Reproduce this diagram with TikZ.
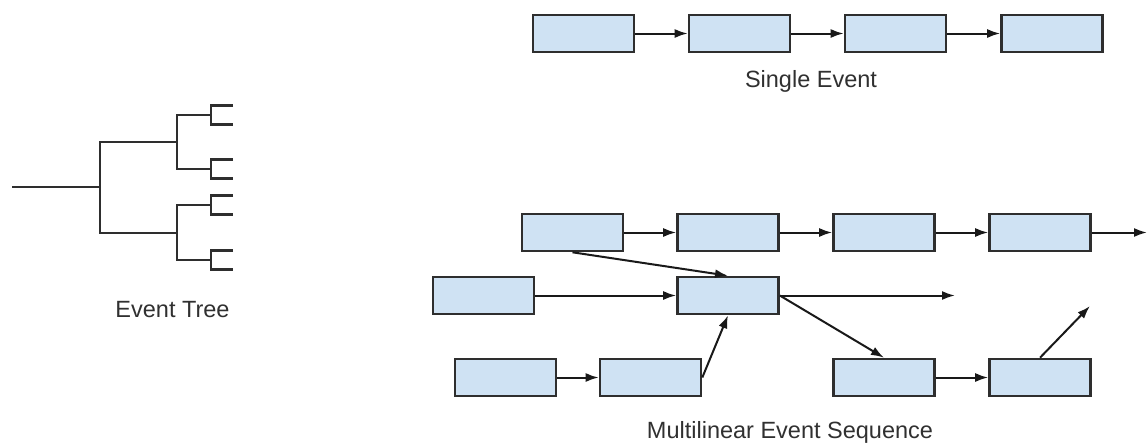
\documentclass[tikz,border=0pt]{standalone}
\usepackage{fontspec}
\setmainfont{Liberation Sans}
\usetikzlibrary{arrows.meta}
\definecolor{boxfill}{HTML}{CFE2F3}
\definecolor{boxline}{HTML}{2E2E2E}
\definecolor{txt}{HTML}{303030}
\begin{document}
\begin{tikzpicture}[x=1pt,y=-1pt,
  evbox/.style={draw=boxline,fill=boxfill,line width=2.6pt,rectangle,minimum width=101pt,minimum height=37pt,inner sep=0pt},
  conn/.style={draw=black!90,line width=2pt,-{Latex[length=13pt,width=9pt]}},
  lbl/.style={text=txt,font=\fontsize{23.5}{28}\selectfont,anchor=base,inner sep=0pt},
  treeline/.style={draw=boxline,line width=2.4pt}]
\useasboundingbox (0,0) rectangle (1147,442);
% Single event row
\node[evbox] (t1) at (583.5,33.5) {};
\node[evbox] (t2) at (739.5,33.5) {};
\node[evbox] (t3) at (895.5,33.5) {};
\node[evbox] (t4) at (1052,33.5) {};
\draw[conn] (t1.east) -- (t2.west);
\draw[conn] (t2.east) -- (t3.west);
\draw[conn] (t3.east) -- (t4.west);
\node[lbl] (lsingle) at (811,87) {Single Event};
% Multilinear
\node[evbox] (a) at (572.5,232.5) {};
\node[evbox] (b) at (728,232.5) {};
\node[evbox] (c) at (884,232.5) {};
\node[evbox] (d) at (1040,232.5) {};
\node[evbox] (e) at (483.5,295.5) {};
\node[evbox] (f) at (728,295.5) {};
\node[evbox] (h) at (505.5,377.5) {};
\node[evbox] (i) at (650.5,377.5) {};
\node[evbox] (g) at (884,377.5) {};
\node[evbox] (j) at (1040,377.5) {};
\coordinate (dend) at (1147,232.5);
\coordinate (fend) at (955,295.5);
\coordinate (jend) at (1090,306);
\draw[conn] (a.east) -- (b.west);
\draw[conn] (b.east) -- (c.west);
\draw[conn] (c.east) -- (d.west);
\draw[conn] (d.east) -- (dend);
\draw[conn] (a.south) -- (f.north);
\draw[conn] (e.east) -- (f.west);
\draw[conn] (f.east) -- (fend);
\draw[conn] (f.east) -- (g.north);
\draw[conn] (h.east) -- (i.west);
\draw[conn] (i.east) -- (f.south);
\draw[conn] (g.east) -- (j.west);
\draw[conn] (j.north) -- (jend);
\node[lbl] (lmulti) at (790,438) {Multilinear Event Sequence};
% Event tree
\draw[treeline] (12,187) -- (100,187);
\draw[treeline] (177,142) -- (100,142) -- (100,233) -- (177,233);
\draw[treeline] (211,115) -- (177,115) -- (177,169) -- (211,169);
\draw[treeline] (211,205) -- (177,205) -- (177,260) -- (211,260);
\foreach \yy in {115,169,205,260}{
  \draw[treeline] (233,\yy-9.5) -- (211,\yy-9.5) -- (211,\yy+9.5) -- (233,\yy+9.5);
}
\node[lbl] (ltree) at (172.5,317) {Event Tree};
\end{tikzpicture}
\end{document}
